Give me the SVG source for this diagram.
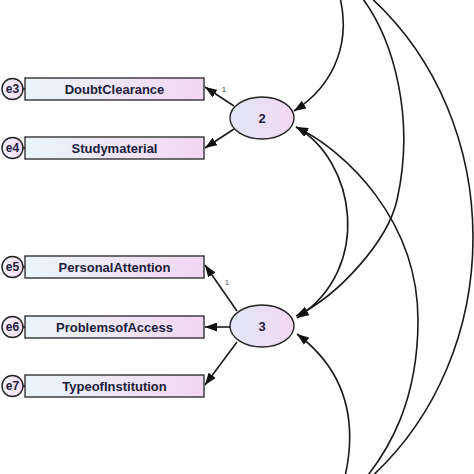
<svg xmlns="http://www.w3.org/2000/svg" width="474" height="474" viewBox="0 0 474 474">
<defs>
<linearGradient id="gBox" x1="0" y1="0" x2="1" y2="0">
<stop offset="0" stop-color="#e9f5f9"/>
<stop offset="0.5" stop-color="#eee6f5"/>
<stop offset="1" stop-color="#f2d5f2"/>
</linearGradient>
<linearGradient id="gEll" x1="0" y1="0" x2="1" y2="0">
<stop offset="0" stop-color="#dfe7f8"/>
<stop offset="1" stop-color="#f4d6f2"/>
</linearGradient>
<linearGradient id="gErr" x1="0" y1="0" x2="1" y2="0">
<stop offset="0" stop-color="#eef2fa"/>
<stop offset="1" stop-color="#f3dcf2"/>
</linearGradient>
<marker id="ah" viewBox="0 0 12 9" refX="12" refY="4.5" markerWidth="12" markerHeight="9" markerUnits="userSpaceOnUse" orient="auto-start-reverse">
<path d="M0,0 L12,4.5 L0,9 z" fill="#111"/>
</marker>
</defs>
<style>
.box{fill:url(#gBox);stroke:#333;stroke-width:1.4}
.ell{fill:url(#gEll);stroke:#222;stroke-width:1.4}
.err{fill:url(#gErr);stroke:#222;stroke-width:1.4}
.lbl{font-family:"Liberation Sans",Arial,sans-serif;font-size:13px;font-weight:bold;fill:#1c1c3c;text-anchor:middle}
.elbl{font-family:"Liberation Sans",Arial,sans-serif;font-size:12px;font-weight:bold;fill:#1c1c3c;text-anchor:middle}
.one{font-family:"Liberation Sans",Arial,sans-serif;font-size:8px;fill:#555;text-anchor:middle}
.c{fill:none;stroke:#1a1a1a;stroke-width:1.6}
.ea{fill:#111}
</style>
<rect width="474" height="474" fill="#fff"/>
<g id="connectors">
<path class="c" d="M234,106 L205,87" marker-end="url(#ah)"/>
<path class="c" d="M234,129 L205,148" marker-end="url(#ah)"/>
<path class="c" d="M237,311 L205,265" marker-end="url(#ah)"/>
<path class="c" d="M230,327 L205,327" marker-end="url(#ah)"/>
<path class="c" d="M237,342 L205,385" marker-end="url(#ah)"/>
<path class="c" d="M338,-10 C353,40 335,85 294,111" marker-end="url(#ah)"/>
<path class="c" d="M360,-5 C395,40 415,120 397,200 C388,240 340,295 296,316" marker-end="url(#ah)"/>
<path class="c" d="M296,127 C355,160 374,268 297,318" marker-start="url(#ah)" marker-end="url(#ah)"/>
<path class="c" d="M296,127 C345,150 418,220 418,320 C418,400 390,450 360,485" marker-start="url(#ah)"/>
<path class="c" d="M343,485 C360,420 345,370 297,334" marker-end="url(#ah)"/>
<path class="c" d="M368,-5 C508,120 508,355 368,480"/>
<g id="errpaths">
<path class="c" d="M23,89 L30,89"/><path class="ea" d="M27,89 L38,84.5 L38,93.5 z"/>
<path class="c" d="M23,148 L30,148"/><path class="ea" d="M27,148 L38,143.5 L38,152.5 z"/>
<path class="c" d="M23,267 L30,267"/><path class="ea" d="M27,267 L38,262.5 L38,271.5 z"/>
<path class="c" d="M23,327 L30,327"/><path class="ea" d="M27,327 L38,322.5 L38,331.5 z"/>
<path class="c" d="M23,386 L30,386"/><path class="ea" d="M27,386 L38,381.5 L38,390.5 z"/>
</g>
<text class="one" x="224" y="92">1</text>
<text class="one" x="227" y="285">1</text>
</g>
<g id="DoubtClearance"><rect class="box" x="25" y="78" width="179" height="22"/><text class="lbl" x="114.5" y="93.5">DoubtClearance</text></g>
<g id="Studymaterial"><rect class="box" x="25" y="137" width="179" height="22"/><text class="lbl" x="114.5" y="152.5">Studymaterial</text></g>
<g id="PersonalAttention"><rect class="box" x="25" y="256" width="179" height="22"/><text class="lbl" x="114.5" y="271.5">PersonalAttention</text></g>
<g id="ProblemsofAccess"><rect class="box" x="25" y="316" width="179" height="22"/><text class="lbl" x="114.5" y="331.5">ProblemsofAccess</text></g>
<g id="TypeofInstitution"><rect class="box" x="25" y="375" width="179" height="22"/><text class="lbl" x="114.5" y="390.5">TypeofInstitution</text></g>
<g id="e3"><circle class="err" cx="12.5" cy="89" r="10.5"/><text class="elbl" x="12.5" y="93">e3</text></g>
<g id="e4"><circle class="err" cx="12.5" cy="148" r="10.5"/><text class="elbl" x="12.5" y="152">e4</text></g>
<g id="e5"><circle class="err" cx="12.5" cy="267" r="10.5"/><text class="elbl" x="12.5" y="271">e5</text></g>
<g id="e6"><circle class="err" cx="12.5" cy="327" r="10.5"/><text class="elbl" x="12.5" y="331">e6</text></g>
<g id="e7"><circle class="err" cx="12.5" cy="386" r="10.5"/><text class="elbl" x="12.5" y="390">e7</text></g>
<g id="F2"><ellipse class="ell" cx="262" cy="118" rx="32" ry="21"/><text class="lbl" x="262" y="123">2</text></g>
<g id="F3"><ellipse class="ell" cx="262" cy="326" rx="32" ry="21"/><text class="lbl" x="262" y="331">3</text></g>
</svg>
